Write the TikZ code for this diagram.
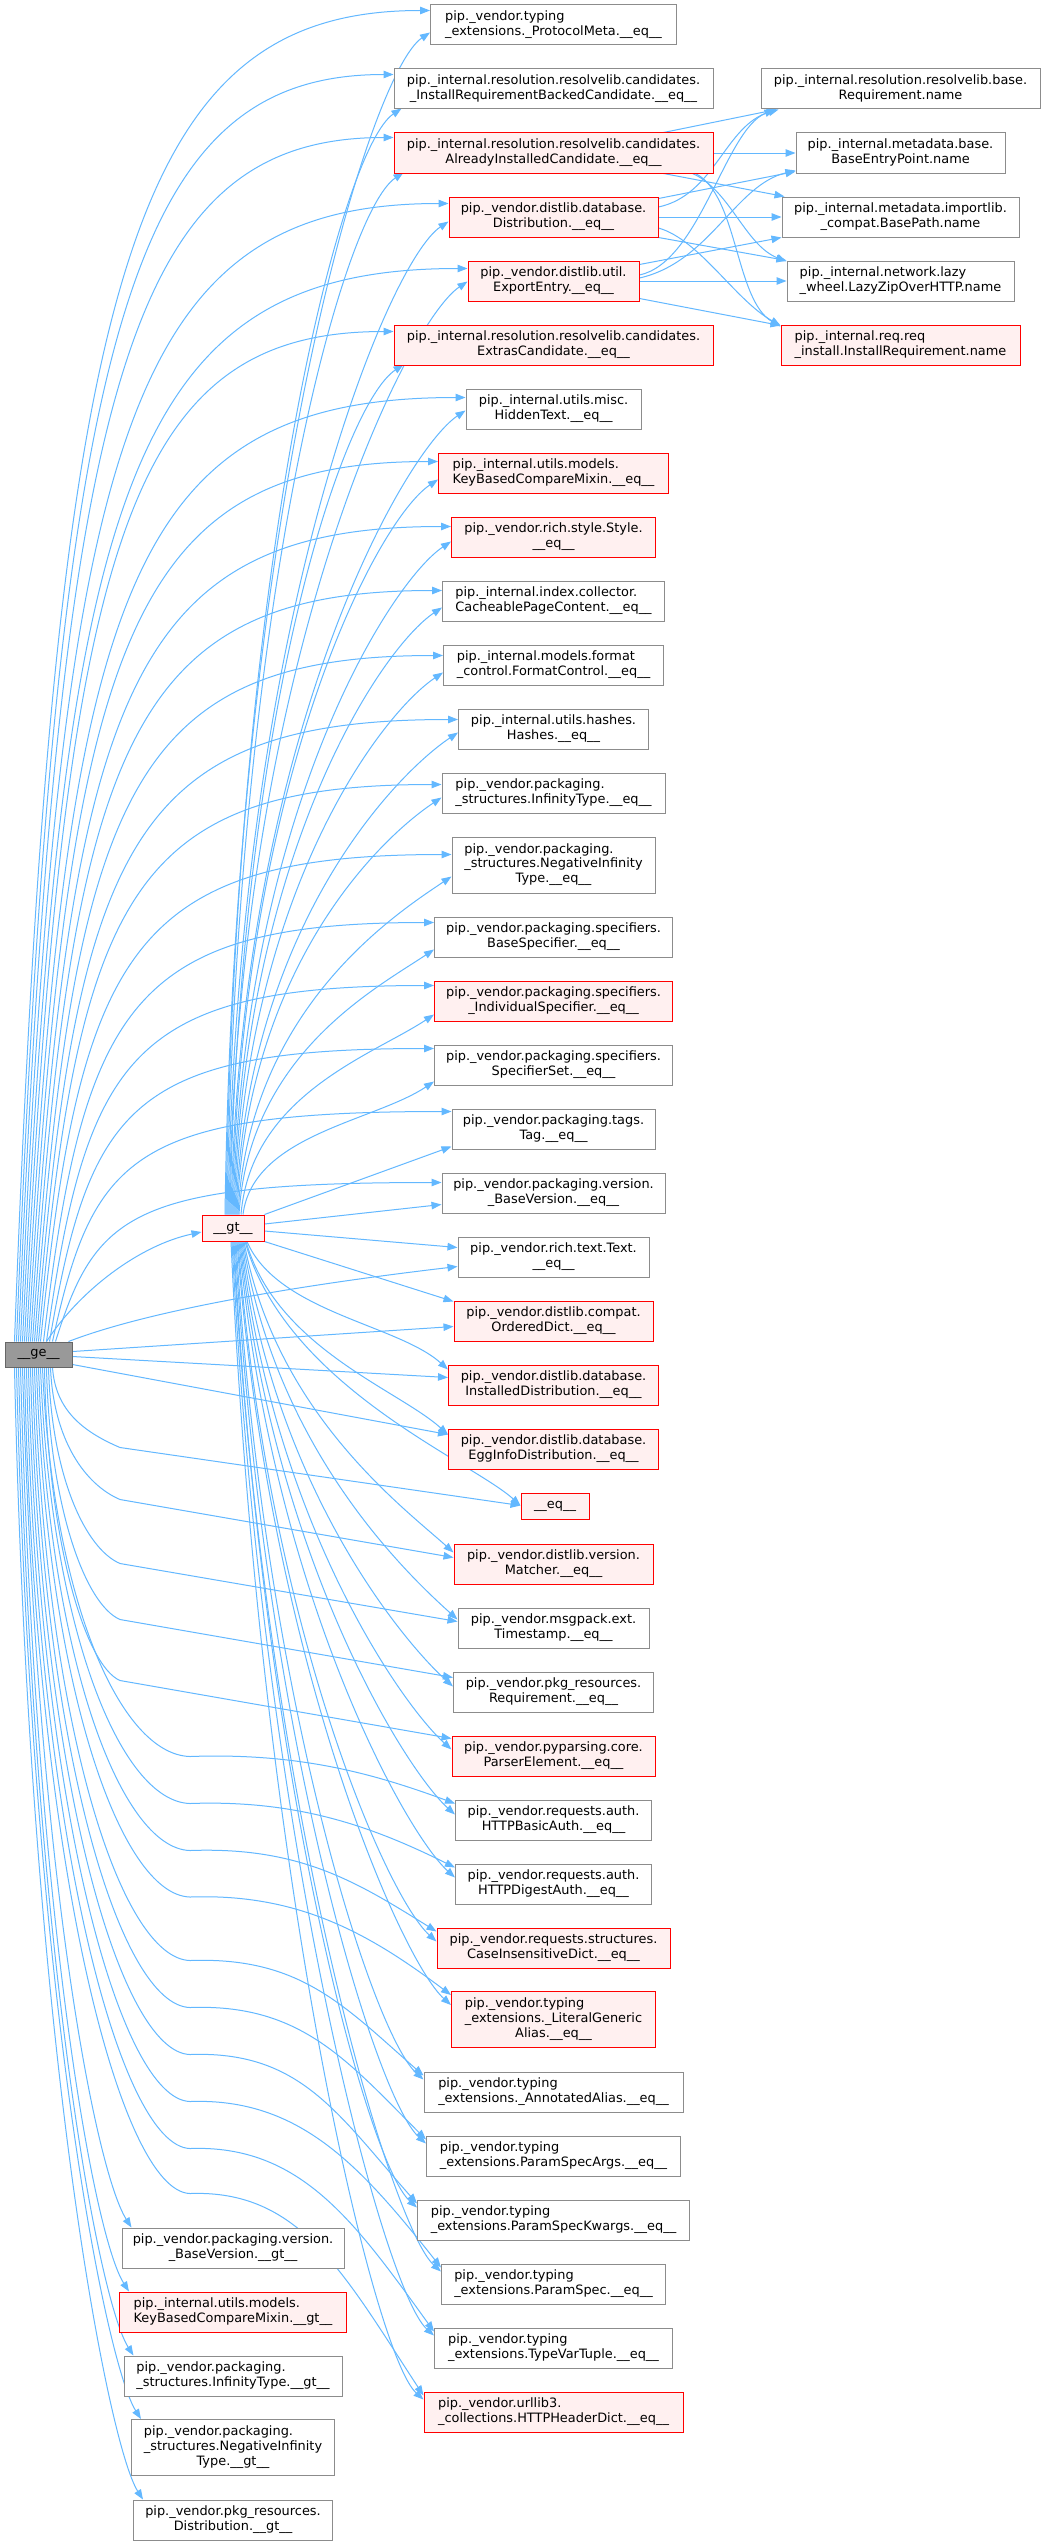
\documentclass[tikz,border=0pt]{standalone}
\usepackage{fontspec}
\setmainfont{DejaVu Sans}
\usetikzlibrary{calc,arrows.meta}

\definecolor{edgeblue}{HTML}{63B8FF}
\definecolor{boxgray}{HTML}{8C8C8C}
\definecolor{redfill}{HTML}{FFF0F0}
\definecolor{curfill}{HTML}{999999}
\definecolor{curdraw}{HTML}{666666}

% label: every line but the last is left-aligned, the last one is centred
\newcommand\dlabel[2]{\begin{tabular}{@{}l@{}}#1\\\multicolumn{1}{@{}c@{}}{#2}\end{tabular}}

\pgfdeclarelayer{paper}
\pgfdeclarelayer{wires}
\pgfsetlayers{paper,wires,main}

\tikzset{
  fn/.style={draw=boxgray, fill=white, line width=1pt, inner sep=0pt,
             font=\fontsize{12.9}{14.7}\selectfont},
  fnred/.style={fn, draw=red, fill=redfill},
  fncur/.style={fn, draw=curdraw, fill=curfill},
  edge/.style={draw=edgeblue, line width=1pt, -{Triangle[length=10pt,width=7.5pt]}}
}

\begin{document}
\begin{tikzpicture}[x=1pt,y=1pt]
\useasboundingbox (0,0) rectangle (1045,-2545);
\begin{pgfonlayer}{paper}
  \fill[white] (0,0) rectangle (1045,-2545);
\end{pgfonlayer}

% ---------- callers ----------
\node[fncur, minimum width=67pt, minimum height=25pt] (ge) at (38.5,-1354.5) {\_\_ge\_\_};
\node[fnred, minimum width=62pt, minimum height=26pt] (gt) at (233,-1228) {\_\_gt\_\_};

% ---------- called __eq__ functions ----------
\node[fn,    minimum width=246pt, minimum height=40pt] (m1)  at (553.5,-25)   {\dlabel{pip.\_vendor.typing}{\_extensions.\_ProtocolMeta.\_\_eq\_\_}};
\node[fn,    minimum width=319pt, minimum height=40pt] (m2)  at (553.5,-89)   {\dlabel{pip.\_internal.resolution.resolvelib.candidates.}{\_InstallRequirementBackedCandidate.\_\_eq\_\_}};
\node[fnred, minimum width=319pt, minimum height=40pt] (m3)  at (553.5,-153)  {\dlabel{pip.\_internal.resolution.resolvelib.candidates.}{AlreadyInstalledCandidate.\_\_eq\_\_}};
\node[fnred, minimum width=209pt, minimum height=40pt] (m4)  at (553.5,-217)  {\dlabel{pip.\_vendor.distlib.database.}{Distribution.\_\_eq\_\_}};
\node[fnred, minimum width=171pt, minimum height=40pt] (m5)  at (553.5,-281)  {\dlabel{pip.\_vendor.distlib.util.}{ExportEntry.\_\_eq\_\_}};
\node[fnred, minimum width=319pt, minimum height=40pt] (m6)  at (553.5,-345)  {\dlabel{pip.\_internal.resolution.resolvelib.candidates.}{ExtrasCandidate.\_\_eq\_\_}};
\node[fn,    minimum width=175pt, minimum height=40pt] (m7)  at (553.5,-409)  {\dlabel{pip.\_internal.utils.misc.}{HiddenText.\_\_eq\_\_}};
\node[fnred, minimum width=230pt, minimum height=40pt] (m8)  at (553.5,-473)  {\dlabel{pip.\_internal.utils.models.}{KeyBasedCompareMixin.\_\_eq\_\_}};
\node[fnred, minimum width=204pt, minimum height=40pt] (m9)  at (553.5,-537)  {\dlabel{pip.\_vendor.rich.style.Style.}{\_\_eq\_\_}};
\node[fn,    minimum width=222pt, minimum height=40pt] (m10) at (553.5,-601)  {\dlabel{pip.\_internal.index.collector.}{CacheablePageContent.\_\_eq\_\_}};
\node[fn,    minimum width=220pt, minimum height=40pt] (m11) at (553.5,-665)  {\dlabel{pip.\_internal.models.format}{\_control.FormatControl.\_\_eq\_\_}};
\node[fn,    minimum width=190pt, minimum height=40pt] (m12) at (553.5,-729)  {\dlabel{pip.\_internal.utils.hashes.}{Hashes.\_\_eq\_\_}};
\node[fn,    minimum width=223pt, minimum height=40pt] (m13) at (553.5,-793)  {\dlabel{pip.\_vendor.packaging.}{\_structures.InfinityType.\_\_eq\_\_}};
\node[fn,    minimum width=203pt, minimum height=56pt] (m14) at (553.5,-865)  {\dlabel{pip.\_vendor.packaging.\\\_structures.NegativeInfinity}{Type.\_\_eq\_\_}};
\node[fn,    minimum width=238pt, minimum height=40pt] (m15) at (553.5,-937)  {\dlabel{pip.\_vendor.packaging.specifiers.}{BaseSpecifier.\_\_eq\_\_}};
\node[fnred, minimum width=238pt, minimum height=40pt] (m16) at (553.5,-1001) {\dlabel{pip.\_vendor.packaging.specifiers.}{\_IndividualSpecifier.\_\_eq\_\_}};
\node[fn,    minimum width=238pt, minimum height=40pt] (m17) at (553.5,-1065) {\dlabel{pip.\_vendor.packaging.specifiers.}{SpecifierSet.\_\_eq\_\_}};
\node[fn,    minimum width=203pt, minimum height=40pt] (m18) at (553.5,-1129) {\dlabel{pip.\_vendor.packaging.tags.}{Tag.\_\_eq\_\_}};
\node[fn,    minimum width=223pt, minimum height=40pt] (m19) at (553.5,-1193) {\dlabel{pip.\_vendor.packaging.version.}{\_BaseVersion.\_\_eq\_\_}};
\node[fn,    minimum width=191pt, minimum height=40pt] (m20) at (553.5,-1257) {\dlabel{pip.\_vendor.rich.text.Text.}{\_\_eq\_\_}};
\node[fnred, minimum width=199pt, minimum height=40pt] (m21) at (553.5,-1321) {\dlabel{pip.\_vendor.distlib.compat.}{OrderedDict.\_\_eq\_\_}};
\node[fnred, minimum width=210pt, minimum height=40pt] (m22) at (553.5,-1385) {\dlabel{pip.\_vendor.distlib.database.}{InstalledDistribution.\_\_eq\_\_}};
\node[fnred, minimum width=210pt, minimum height=40pt] (m23) at (553.5,-1449) {\dlabel{pip.\_vendor.distlib.database.}{EggInfoDistribution.\_\_eq\_\_}};
\node[fnred, minimum width=68pt,  minimum height=26pt] (m24) at (555,-1506)   {\_\_eq\_\_};
\node[fnred, minimum width=199pt, minimum height=40pt] (m25) at (553.5,-1564) {\dlabel{pip.\_vendor.distlib.version.}{Matcher.\_\_eq\_\_}};
\node[fn,    minimum width=191pt, minimum height=40pt] (m26) at (553.5,-1628) {\dlabel{pip.\_vendor.msgpack.ext.}{Timestamp.\_\_eq\_\_}};
\node[fn,    minimum width=200pt, minimum height=40pt] (m27) at (553.5,-1692) {\dlabel{pip.\_vendor.pkg\_resources.}{Requirement.\_\_eq\_\_}};
\node[fnred, minimum width=203pt, minimum height=40pt] (m28) at (553.5,-1756) {\dlabel{pip.\_vendor.pyparsing.core.}{ParserElement.\_\_eq\_\_}};
\node[fn,    minimum width=196pt, minimum height=40pt] (m29) at (553.5,-1820) {\dlabel{pip.\_vendor.requests.auth.}{HTTPBasicAuth.\_\_eq\_\_}};
\node[fn,    minimum width=196pt, minimum height=40pt] (m30) at (553.5,-1884) {\dlabel{pip.\_vendor.requests.auth.}{HTTPDigestAuth.\_\_eq\_\_}};
\node[fnred, minimum width=233pt, minimum height=40pt] (m31) at (553.5,-1948) {\dlabel{pip.\_vendor.requests.structures.}{CaseInsensitiveDict.\_\_eq\_\_}};
\node[fnred, minimum width=204pt, minimum height=56pt] (m32) at (553.5,-2019.5) {\dlabel{pip.\_vendor.typing\\\_extensions.\_LiteralGeneric}{Alias.\_\_eq\_\_}};
\node[fn,    minimum width=259pt, minimum height=40pt] (m33) at (553.5,-2092) {\dlabel{pip.\_vendor.typing}{\_extensions.\_AnnotatedAlias.\_\_eq\_\_}};
\node[fn,    minimum width=254pt, minimum height=40pt] (m34) at (553.5,-2156) {\dlabel{pip.\_vendor.typing}{\_extensions.ParamSpecArgs.\_\_eq\_\_}};
\node[fn,    minimum width=272pt, minimum height=40pt] (m35) at (553.5,-2220) {\dlabel{pip.\_vendor.typing}{\_extensions.ParamSpecKwargs.\_\_eq\_\_}};
\node[fn,    minimum width=224pt, minimum height=40pt] (m36) at (553.5,-2284) {\dlabel{pip.\_vendor.typing}{\_extensions.ParamSpec.\_\_eq\_\_}};
\node[fn,    minimum width=238pt, minimum height=40pt] (m37) at (553.5,-2348) {\dlabel{pip.\_vendor.typing}{\_extensions.TypeVarTuple.\_\_eq\_\_}};
\node[fnred, minimum width=259pt, minimum height=40pt] (m38) at (553.5,-2412) {\dlabel{pip.\_vendor.urllib3.}{\_collections.HTTPHeaderDict.\_\_eq\_\_}};

% ---------- name properties ----------
\node[fn,    minimum width=279pt, minimum height=40pt] (r1) at (900.5,-89)  {\dlabel{pip.\_internal.resolution.resolvelib.base.}{Requirement.name}};
\node[fn,    minimum width=209pt, minimum height=40pt] (r2) at (900.5,-153) {\dlabel{pip.\_internal.metadata.base.}{BaseEntryPoint.name}};
\node[fn,    minimum width=237pt, minimum height=40pt] (r3) at (900.5,-217) {\dlabel{pip.\_internal.metadata.importlib.}{\_compat.BasePath.name}};
\node[fn,    minimum width=227pt, minimum height=40pt] (r4) at (900.5,-281) {\dlabel{pip.\_internal.network.lazy}{\_wheel.LazyZipOverHTTP.name}};
\node[fnred, minimum width=239pt, minimum height=40pt] (r5) at (900.5,-345) {\dlabel{pip.\_internal.req.req}{\_install.InstallRequirement.name}};

% ---------- other __gt__ functions ----------
\node[fn,    minimum width=222pt, minimum height=40pt] (l1) at (233,-2248)   {\dlabel{pip.\_vendor.packaging.version.}{\_BaseVersion.\_\_gt\_\_}};
\node[fnred, minimum width=227pt, minimum height=40pt] (l2) at (233,-2312)   {\dlabel{pip.\_internal.utils.models.}{KeyBasedCompareMixin.\_\_gt\_\_}};
\node[fn,    minimum width=218pt, minimum height=40pt] (l3) at (233,-2376)   {\dlabel{pip.\_vendor.packaging.}{\_structures.InfinityType.\_\_gt\_\_}};
\node[fn,    minimum width=203pt, minimum height=56pt] (l4) at (233,-2447.5) {\dlabel{pip.\_vendor.packaging.\\\_structures.NegativeInfinity}{Type.\_\_gt\_\_}};
\node[fn,    minimum width=199pt, minimum height=40pt] (l5) at (233,-2520)   {\dlabel{pip.\_vendor.pkg\_resources.}{Distribution.\_\_gt\_\_}};

\begin{pgfonlayer}{wires}
% __ge__ -> __gt__
\draw[edge] ($(ge.north)+(8,0)$) .. controls (80,-1290) and (140,-1245) .. ($(gt.west)+(0,-4)$);

% __ge__ -> functions above it
\foreach \nd/\sx/\ay in {m1/-24/6, m2/-22/6, m3/-20/5, m4/-18/7, m5/-16/8, m6/-14/7,
    m7/-12/9, m8/-10/9, m9/-8/10, m10/-6/10, m11/-4/11, m12/-2/11, m13/0/12,
    m14/2/18, m15/5/6, m16/8/5, m17/11/4, m18/14/3, m19/17/10}
  \draw[edge] let \p1=($(ge.north)+(\sx,0)$), \p2=($(\nd.north west)+(0,-\ay)$) in
    (\p1) .. controls ({\x1+40}, {\y2-0.2*(\y2-\y1)}) and (130pt,\y2) .. (\p2);

% __gt__ -> functions above it
\foreach \nd/\sx/\ax/\ay in {m1/-8/0/28, m2/-7/8/40, m3/-6/10/40, m4/-5/0/25, m5/-4/0/21,
    m6/-3/10/40, m7/-2/0/22, m8/-1/0/27, m9/0/0/25, m10/1/0/27, m11/2/0/28, m12/3/0/24,
    m13/4/0/25, m14/5/0/40, m15/6/0/33, m16/8/0/34, m17/10/0/37}
  \draw[edge] let \p1=($(gt.north)+(\sx,0)$), \p2=($(\nd.north west)+(\ax,-\ay)$) in
    (\p1) .. controls ({\x1+10}, {\y1+0.6*(\y2-\y1)}) and ({\x2-60}, {\y2-40}) .. (\p2);
\draw[edge] (gt.north east) -- ($(m18.north west)+(0,-38)$);
\draw[edge] ($(gt.east)+(0,4)$) -- ($(m19.north west)+(0,-32)$);

% __gt__ -> functions level with it and below
\draw[edge] ($(gt.east)+(0,-3)$) -- ($(m20.north west)+(0,-11)$);
\draw[edge] (gt.south east) -- ($(m21.north west)+(0,-1)$);
\foreach \nd/\sx/\ay in {m22/14/5, m23/13/6, m24/12/13, m25/11/9, m26/10/12, m27/9/15,
    m28/8/14, m29/7/15, m30/6/14, m31/5/14, m32/4/14, m33/3/8, m34/2/8, m35/1/8,
    m36/0/8, m37/-1/8, m38/-2/8}
  \draw[edge] let \p1=($(gt.south)+(\sx,0)$), \p2=($(\nd.north west)+(0,-\ay)$) in
    (\p1) .. controls ({\x1+0.15*(\x2-\x1)}, {\y1+0.55*(\y2-\y1)}) and ({\x2-50}, {\y2+45}) .. (\p2);

% __ge__ -> functions near its level
\draw[edge] ($(ge.north east)+(-4,0)$) .. controls (150,-1310) and (300,-1285) .. ($(m20.north west)+(0,-30)$);
\draw[edge] ($(ge.east)+(0,3)$) -- ($(m21.north west)+(0,-26)$);
\draw[edge] ($(ge.east)+(0,-2)$) -- ($(m22.north west)+(0,-13)$);
\draw[edge] ($(ge.east)+(0,-10)$) -- ($(m23.north west)+(0,-6)$);

% __ge__ -> functions below it, bent at the left
\foreach \nd/\sx/\ay in {m24/14/13, m25/12/14, m26/10/14, m27/8/6, m28/6/3}
  \draw[edge] let \p1=($(ge.south)+(\sx,0)$), \p2=($(\nd.north west)+(0,-\ay)$) in
    (\p1) .. controls ({\x1+3}, {\y1+0.55*(\y2+58-\y1)}) and (85pt, {\y2+73}) .. (120pt, {\y2+58}) -- (\p2);

% __ge__ -> lower functions, wavy routes
\foreach \nd/\sx/\dd in {m29/4/49, m30/2/66, m31/0/83, m32/-2/100, m33/-4/117,
    m34/-6/134, m35/-8/151, m36/-10/168, m37/-12/185, m38/-14/204}
  \draw[edge] let \p1=($(ge.south)+(\sx,0)$), \p2=($(\nd.north west)+(0,-4)$) in
    (\p1) .. controls ({\x1+10}, {\y1+0.6*(\y2+\dd-\y1)}) and (120pt, {\y2+\dd})
    .. (190pt, {\y2+\dd-2}) .. controls (300pt, {\y2+\dd+2}) and ({\x2-80}, {\y2+0.6*\dd}) .. (\p2);

% __ge__ -> the other __gt__ functions
\foreach \nd/\sx in {l1/-16, l2/-18, l3/-20, l4/-22, l5/-24}
  \draw[edge] let \p1=($(ge.south)+(\sx,0)$), \p2=($(\nd.north west)+(10,0)$) in
    (\p1) .. controls ({\x1+15}, {\y1+0.6*(\y2-\y1)}) and ({\x2-35}, {\y2+55}) .. (\p2);

% __eq__ implementations -> name properties
\draw[edge] ($(m3.north east)+(-50,0)$) -- ($(r1.south west)+(16,0)$);
\draw[edge] (m3.east) -- (r2.west);
\draw[edge] ($(m3.south east)+(-50,0)$) -- ($(r3.north west)+(3,0)$);
\draw[edge] ($(m3.south east)+(-21,0)$) .. controls (730,-190) and (745,-245) .. ($(r4.north west)+(0,-1)$);
\draw[edge] ($(m3.south east)+(-18,0)$) .. controls (738,-195) and (735,-300) .. ($(r5.north west)+(0,-2)$);

\draw[edge] ($(m4.east)+(0,10)$) .. controls (715,-195) and (725,-125) .. ($(r1.south west)+(18,0)$);
\draw[edge] ($(m4.north east)+(0,-2)$) -- ($(r2.south west)+(0,2)$);
\draw[edge] (m4.east) -- (r3.west);
\draw[edge] (m4.south east) -- (r4.north west);
\draw[edge] ($(m4.east)+(0,-11)$) .. controls (700,-240) and (735,-300) .. ($(r5.north west)+(0,-1)$);

\draw[edge] ($(m5.east)+(0,6)$) .. controls (700,-262) and (725,-130) .. ($(r1.south west)+(14,0)$);
\draw[edge] ($(m5.east)+(0,3)$) .. controls (710,-262) and (735,-185) .. ($(r2.south west)+(0,3)$);
\draw[edge] ($(m5.north east)+(0,-4)$) -- (r3.south west);
\draw[edge] (m5.east) -- (r4.west);
\draw[edge] ($(m5.south east)+(0,3)$) -- ($(r5.north west)+(0,-1)$);
\end{pgfonlayer}
\end{tikzpicture}
\end{document}
